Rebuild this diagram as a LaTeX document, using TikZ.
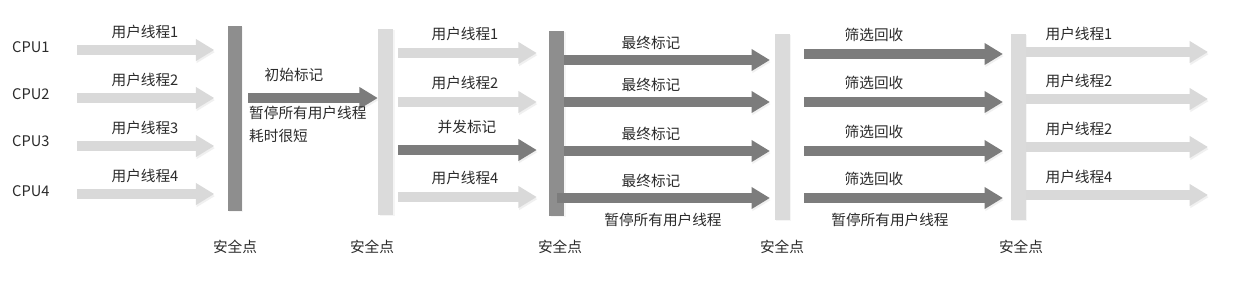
\documentclass[tikz,border=0pt]{standalone}
\usepackage{fontspec}
\setmainfont{Noto Sans CJK SC}
\usetikzlibrary{positioning,arrows.meta,shadows}
\definecolor{ink}{HTML}{2B2B2B}
\definecolor{barlight}{HTML}{DBDBDB}
\definecolor{bardark}{HTML}{8E8E8E}
\definecolor{flowlight}{HTML}{D9D9D9}
\definecolor{flowdark}{HTML}{7C7C7C}

\begin{document}
\begin{tikzpicture}[
  x=0.03cm, y=-0.03cm,
  every node/.style={font=\fontsize{12.5}{15}\selectfont, text=ink, inner sep=0pt},
  bar/.style={
    rectangle, minimum width=0.45cm, minimum height=5.55cm,
    drop shadow={shadow xshift=1.5pt, shadow yshift=-1pt, opacity=0.08}
  },
  flow/.style={
    -{Triangle[length=0.55cm,width=0.62cm]}, line width=0.31cm,
    preaction={draw=black!6, transform canvas={shift={(0.6pt,-1.8pt)}}}
  },
  lightflow/.style={flow, draw=flowlight},
  darkflow/.style={flow, draw=flowdark}
]
\fill[white] (0,0) rectangle (1240,297);
\useasboundingbox (0,0) rectangle (1240,297);

% Safepoint bars
\node[bar, fill=bardark, minimum width=0.42cm] (sp1) at (234.5,118.5) {};
\node[bar, fill=barlight, minimum height=5.58cm] (sp2) at (385.5,122) {};
\node[bar, fill=bardark] (sp3) at (556.5,123) {};
\node[bar, fill=barlight, minimum height=5.58cm] (sp4) at (782,126.5) {};
\node[bar, fill=barlight, minimum height=5.58cm] (sp5) at (1018,127) {};

\foreach \x [count=\i] in {235,372,560,782,1021}
  \node (spl\i) at (\x,247) {安全点};

% CPUs running user threads
\foreach \y/\cy [count=\i] in {50/47,98/94,146/141,194/191} {
  \node[anchor=west] (cpu\i) at (12,\cy) {CPU\i};
  \coordinate (a\i) at (77,\y);
  \draw[lightflow, shorten >=0.39cm] (a\i) -- (a\i -| sp1.west);
  \node (ut\i) at (145,\y-18) {用户线程\i};
}

% Initial mark
\coordinate (im) at (248,98);
\draw[darkflow] (im) -- (im -| sp2.west);
\node (iml) at (294,75) {初始标记};
\node[anchor=west, align=left, font=\fontsize{12.5}{19.6}\selectfont] (imn) at (249,124.5) {暂停所有用户线程\\耗时很短};

% Concurrent mark
\foreach \y/\t [count=\i] in {53/用户线程1,102/用户线程2,197/用户线程4} {
  \coordinate (b\i) at (398,\y);
  \draw[lightflow, shorten >=0.36cm] (b\i) -- (b\i -| sp3.west);
  \node (cl\i) at (465,\y-19) {\t};
}
\coordinate (cm) at (398,150);
\draw[darkflow, shorten >=0.36cm] (cm) -- (cm -| sp3.west);
\node (cml) at (467,127) {并发标记};

% Remark
\foreach \y/\s [count=\i] in {60/0,102/0,151/0,198/7} {
  \coordinate (c\i) at ([xshift=-\s*0.03cm]sp3.east |- 0,\y);
  \draw[darkflow, shorten >=0.13cm] (c\i) -- (c\i -| sp4.west);
  \node (rm\i) at (651,\y-17) {最终标记};
}
\node (rmn) at (663,220) {暂停所有用户线程};

% Cleanup
\foreach \y [count=\i] in {54,102,151,198} {
  \coordinate (d\i) at (804,\y);
  \draw[darkflow, shorten >=0.22cm] (d\i) -- (d\i -| sp5.west);
  \node (cu\i) at (874,\y-19) {筛选回收};
}
\node (cun) at (890,220) {暂停所有用户线程};

% User threads resume
\foreach \y/\t [count=\i] in {52/用户线程1,99/用户线程2,147/用户线程2,195/用户线程4} {
  \coordinate (e\i) at (sp5.east |- 0,\y);
  \draw[lightflow] (e\i) -- (1208,\y);
  \node (rs\i) at (1079,\y-18) {\t};
}

\end{tikzpicture}
\end{document}
